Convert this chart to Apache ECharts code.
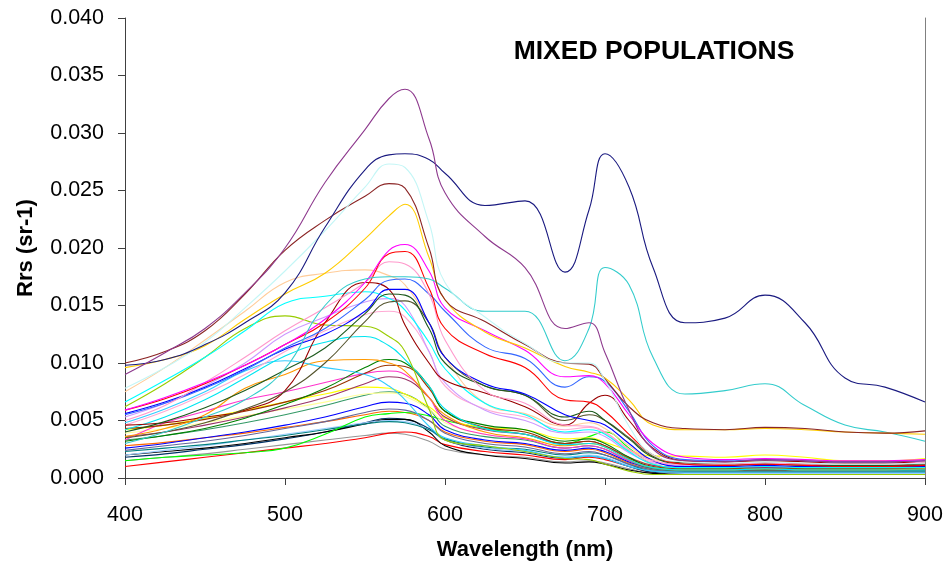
<!DOCTYPE html>
<html lang="en">
<head>
    <meta charset="UTF-8">
    <title>Mixed populations - Rrs spectra</title>
    <script src="https://cdn.jsdelivr.net/npm/echarts@6/dist/echarts.min.js"></script>
    <style>
        html, body { margin: 0; height: 100%; background: #fff; }
        #main { width: 949px; height: 568px; }
    </style>
</head>
<body>
<div id="main"></div>
<script>
var wavelengths = [400, 425, 450, 475, 500, 525, 550, 565, 575, 590, 600, 625, 650, 675, 690, 700, 715, 730, 750, 775, 800, 825, 850, 875, 900];

// Rrs values in units of 0.001 sr-1
var s01 = [9.0, 10.9, 13.0, 16.1, 20.0, 25.7, 30.3, 33.0, 33.8, 29.5, 24.8, 21.0, 18.3, 13.0, 13.5, 10.9, 5.9, 2.5, 1.5, 1.4, 1.6, 1.5, 1.4, 1.4, 1.5];
var s02 = [9.8, 10.3, 11.6, 13.5, 16.1, 21.8, 26.8, 28.1, 28.2, 27.7, 26.5, 23.7, 24.1, 17.9, 23.3, 28.2, 25.3, 18.3, 13.5, 13.9, 15.9, 13.5, 8.7, 7.9, 6.6];
var s03 = [7.8, 9.6, 11.8, 14.8, 18.0, 21.5, 25.3, 27.3, 27.0, 22.2, 17.0, 14.0, 11.7, 10.0, 10.0, 8.5, 4.5, 2.0, 1.4, 1.3, 1.4, 1.3, 1.2, 1.2, 1.3];
var s04 = [10.0, 11.0, 12.8, 16.0, 19.8, 22.4, 24.5, 25.6, 25.2, 20.0, 15.5, 13.6, 11.6, 10.0, 9.9, 8.6, 6.2, 4.8, 4.3, 4.2, 4.4, 4.3, 4.0, 3.9, 4.1];
var s05 = [9.6, 10.3, 11.5, 13.8, 16.0, 17.8, 20.8, 22.8, 23.8, 19.2, 15.5, 12.7, 11.3, 9.7, 9.2, 8.7, 6.8, 4.6, 4.2, 4.2, 4.3, 4.2, 4.0, 3.9, 3.8];
var s06 = [3.0, 4.0, 5.3, 6.8, 9.5, 15.0, 17.3, 17.5, 17.5, 17.3, 16.5, 14.5, 14.5, 10.2, 13.0, 18.3, 16.8, 10.5, 7.3, 7.6, 8.2, 6.3, 4.6, 4.0, 3.2];
var s07 = [5.9, 7.0, 8.3, 9.8, 11.6, 13.8, 17.0, 19.8, 20.3, 18.0, 14.8, 12.8, 11.1, 8.8, 8.9, 8.2, 5.5, 3.0, 1.8, 1.6, 1.7, 1.6, 1.5, 1.5, 1.6];
var s08 = [5.9, 6.9, 8.2, 9.8, 11.6, 13.5, 16.5, 19.5, 19.7, 16.5, 13.0, 10.8, 9.6, 6.8, 6.6, 5.8, 3.8, 2.0, 1.2, 1.1, 1.2, 1.1, 1.0, 1.0, 1.1];
var s09 = [5.0, 6.3, 8.3, 10.5, 12.8, 14.8, 17.0, 18.8, 18.6, 16.0, 12.0, 7.6, 6.5, 4.6, 4.5, 4.0, 2.5, 1.5, 1.2, 1.2, 1.3, 1.2, 1.2, 1.2, 1.4];
var s10 = [5.5, 6.5, 7.8, 9.4, 11.3, 13.0, 15.5, 17.2, 17.3, 16.0, 14.5, 11.4, 10.4, 7.9, 8.8, 8.4, 5.8, 2.8, 1.6, 1.5, 1.6, 1.5, 1.4, 1.4, 1.5];
var s11 = [5.6, 6.6, 7.9, 9.5, 11.2, 12.5, 14.5, 16.4, 16.4, 13.5, 10.5, 8.2, 7.3, 5.5, 5.0, 4.6, 3.0, 1.5, 1.0, 1.0, 1.1, 1.0, 1.0, 1.0, 1.0];
var s12 = [4.0, 4.9, 6.1, 7.6, 9.4, 11.3, 14.3, 16.0, 15.9, 13.0, 10.0, 8.0, 7.2, 5.3, 5.8, 5.0, 3.4, 1.8, 1.2, 1.1, 1.2, 1.1, 1.1, 1.1, 1.1];
var s13 = [3.5, 4.0, 4.8, 6.0, 7.5, 10.0, 13.6, 15.3, 15.4, 13.5, 10.5, 8.0, 7.2, 5.0, 5.5, 5.0, 3.5, 1.9, 1.3, 1.2, 1.3, 1.2, 1.2, 1.2, 1.2];
var s14 = [4.6, 4.8, 5.3, 5.9, 7.6, 13.5, 17.0, 16.4, 13.3, 10.0, 8.5, 7.4, 6.2, 4.6, 6.5, 7.2, 5.0, 2.6, 1.5, 1.4, 1.5, 1.4, 1.3, 1.3, 1.4];
var s15 = [6.6, 8.5, 10.5, 12.8, 15.2, 15.8, 16.2, 15.6, 14.6, 11.8, 9.5, 6.5, 5.5, 4.0, 4.2, 3.8, 2.3, 1.2, 0.9, 0.9, 1.0, 0.9, 0.9, 0.9, 0.9];
var s16 = [7.5, 9.6, 12.0, 14.5, 17.0, 17.8, 18.1, 17.6, 16.8, 13.5, 10.5, 6.5, 5.6, 4.5, 4.8, 4.3, 2.8, 1.6, 1.4, 1.4, 1.5, 1.4, 1.3, 1.4, 1.6];
var s17 = [5.3, 6.5, 8.0, 10.0, 12.5, 14.0, 15.3, 15.6, 15.0, 11.0, 8.3, 5.9, 5.0, 3.9, 4.0, 3.6, 2.2, 1.3, 1.1, 1.1, 1.2, 1.1, 1.0, 1.0, 1.1];
var s18 = [4.6, 5.8, 7.3, 9.0, 11.0, 12.8, 14.2, 14.5, 14.0, 11.0, 8.0, 6.0, 5.3, 4.2, 4.4, 3.9, 2.4, 1.4, 1.2, 1.2, 1.3, 1.2, 1.1, 1.1, 1.3];
var s19 = [6.2, 8.2, 10.5, 13.0, 14.1, 13.3, 13.2, 12.3, 11.0, 6.0, 3.3, 2.8, 2.3, 1.7, 1.6, 1.2, 0.6, 0.3, 0.3, 0.3, 0.3, 0.3, 0.3, 0.3, 0.3];
var s20 = [4.2, 5.3, 6.8, 8.7, 10.6, 11.8, 12.3, 11.5, 10.3, 8.0, 6.0, 4.3, 3.8, 2.9, 3.0, 2.7, 1.6, 0.9, 0.7, 0.7, 0.8, 0.7, 0.7, 0.7, 0.7];
var s21 = [4.8, 6.0, 7.5, 9.3, 10.2, 9.6, 9.0, 8.0, 6.8, 4.5, 3.5, 2.8, 2.4, 1.8, 1.9, 1.7, 1.0, 0.6, 0.5, 0.5, 0.5, 0.5, 0.5, 0.5, 0.5];
var s22 = [3.6, 4.3, 5.5, 7.8, 9.0, 10.2, 10.3, 10.0, 9.3, 7.0, 5.5, 4.0, 3.5, 2.8, 3.0, 2.7, 1.6, 0.9, 0.7, 0.7, 0.8, 0.7, 0.7, 0.7, 0.8];
var s23 = [3.2, 3.7, 4.3, 5.2, 6.4, 7.8, 9.6, 10.3, 10.0, 8.0, 5.8, 4.6, 4.2, 3.2, 3.4, 3.0, 1.8, 0.9, 0.7, 0.7, 0.7, 0.7, 0.7, 0.7, 0.7];
var s24 = [4.3, 4.6, 5.1, 5.8, 6.6, 7.6, 9.1, 9.8, 9.7, 7.8, 5.8, 4.4, 4.0, 3.0, 3.2, 2.8, 1.7, 1.0, 0.8, 0.8, 0.8, 0.8, 0.8, 0.8, 0.8];
var s25 = [3.3, 4.8, 5.8, 6.8, 7.5, 8.3, 9.1, 9.3, 9.0, 7.0, 5.0, 3.8, 3.4, 2.6, 2.8, 2.5, 1.5, 0.9, 0.7, 0.7, 0.7, 0.7, 0.7, 0.7, 0.7];
var s26 = [4.2, 4.6, 5.2, 5.9, 6.6, 7.3, 7.9, 7.8, 7.3, 6.2, 5.2, 4.4, 4.2, 3.4, 3.5, 3.1, 2.4, 1.9, 1.9, 1.8, 2.0, 1.8, 1.5, 1.5, 1.7];
var s27 = [3.9, 4.3, 4.8, 5.4, 6.0, 6.6, 7.3, 7.4, 7.1, 6.0, 4.8, 3.8, 3.5, 2.8, 3.0, 2.7, 1.8, 1.2, 1.1, 1.1, 1.2, 1.1, 1.0, 1.0, 1.1];
var s28 = [3.3, 3.7, 4.2, 4.8, 5.5, 6.3, 7.2, 7.5, 7.3, 6.0, 4.5, 3.6, 3.3, 2.6, 2.8, 2.5, 1.5, 0.8, 0.6, 0.6, 0.6, 0.6, 0.6, 0.6, 0.6];
var s29 = [2.6, 3.0, 3.5, 4.0, 4.6, 5.3, 6.2, 6.6, 6.5, 5.5, 4.2, 3.3, 3.0, 2.4, 2.6, 2.3, 1.4, 0.8, 0.6, 0.6, 0.6, 0.6, 0.6, 0.6, 0.6];
var s30 = [1.5, 1.8, 2.0, 2.2, 2.6, 3.8, 5.3, 5.6, 5.7, 5.4, 5.0, 4.3, 3.8, 3.0, 3.6, 4.0, 2.6, 1.2, 0.8, 0.8, 0.8, 0.8, 0.8, 0.8, 0.8];
var s31 = [2.8, 3.1, 3.5, 3.9, 4.4, 4.9, 5.5, 5.8, 5.7, 5.0, 4.0, 3.2, 2.9, 2.3, 2.5, 2.2, 1.3, 0.7, 0.5, 0.5, 0.5, 0.5, 0.5, 0.5, 0.5];
var s32 = [2.3, 2.6, 2.9, 3.3, 3.7, 4.2, 4.7, 4.9, 4.8, 4.2, 3.4, 2.7, 2.5, 2.0, 2.2, 2.0, 1.2, 0.6, 0.5, 0.5, 0.5, 0.5, 0.5, 0.5, 0.5];
var s33 = [2.0, 2.3, 2.6, 3.0, 3.5, 4.0, 4.7, 5.1, 5.1, 4.0, 2.8, 2.0, 1.7, 1.3, 1.4, 1.2, 0.7, 0.4, 0.3, 0.3, 0.3, 0.3, 0.3, 0.3, 0.3];
var s34 = [1.0, 1.4, 1.8, 2.2, 2.6, 3.0, 3.5, 3.9, 4.0, 3.6, 2.9, 2.3, 2.0, 1.6, 1.8, 1.6, 1.0, 0.5, 0.4, 0.4, 0.4, 0.4, 0.4, 0.4, 0.4];
var s35 = [1.5, 1.8, 2.1, 2.5, 2.9, 3.3, 3.7, 3.9, 3.8, 3.2, 2.5, 2.0, 1.8, 1.4, 1.5, 1.3, 0.8, 0.4, 0.3, 0.3, 0.3, 0.3, 0.3, 0.3, 0.3];
var s36 = [2.0, 2.4, 2.8, 3.3, 3.8, 4.3, 4.8, 5.0, 4.9, 4.2, 3.3, 2.6, 2.3, 1.8, 2.0, 1.8, 1.1, 0.6, 0.4, 0.4, 0.4, 0.4, 0.4, 0.4, 0.4];
var s37 = [2.4, 2.8, 3.2, 3.7, 4.3, 4.9, 5.7, 6.0, 5.9, 5.0, 3.9, 3.0, 2.7, 2.1, 2.3, 2.0, 1.2, 0.7, 0.5, 0.5, 0.5, 0.5, 0.5, 0.5, 0.5];
var s38 = [1.8, 2.1, 2.5, 2.9, 3.4, 4.0, 4.8, 5.2, 5.1, 4.3, 3.3, 2.5, 2.2, 1.7, 1.9, 1.7, 1.0, 0.5, 0.4, 0.4, 0.4, 0.4, 0.4, 0.4, 0.4];
var s39 = [3.6, 4.0, 4.6, 5.3, 6.1, 7.0, 8.2, 8.8, 8.6, 7.0, 5.3, 4.2, 3.8, 3.0, 3.2, 2.8, 1.8, 1.1, 0.9, 0.9, 0.9, 0.9, 0.9, 0.9, 0.9];

var yTicks = [0, 5, 10, 15, 20, 25, 30, 35, 40];
var xTicks = [400, 500, 600, 700, 800, 900];

// drawing order: low spectra first, bright ones on top
var spectra = [s35, s34, s38, s33, s36, s32, s31, s30, s29, s37, s28, s27, s26, s39, s25, s24, s23, s22, s21, s20, s19,
    s18, s17, s16, s15, s14, s13, s12, s11, s10, s09, s08, s07, s06, s05, s04, s03, s02, s01];
var lineColors = ['#969696', '#FF0000', '#003366', '#000000', '#99CCFF', '#008080', '#FF6600', '#00FF00', '#0000FF', '#666699', '#339966', '#FFFF99', '#FFFF00', '#993366', '#FF33CC', '#993300', '#008000', '#FF9900', '#33CCFF', '#00E5F0', '#99CC00',
    '#FFAAD4', '#CC99FF', '#FFCC99', '#00FFFF', '#990000', '#55552E', '#1E5A1E', '#0000FF', '#3366FF', '#FF99CC', '#FF0000', '#FF00FF', '#33CCCC', '#FFCC00', '#8B2525', '#C4F6F6', '#1A1A80', '#8E3A8E'];

var fontFam = '"Liberation Sans", Arial, sans-serif';

var chart = echarts.init(document.getElementById('main'), null, { renderer: 'canvas' });

var series = spectra.map(function (vals, k) {
    return {
        type: 'line',
        data: wavelengths.map(function (w, i) { return [w, vals[i]]; }),
        showSymbol: false,
        smooth: 0.45,
        lineStyle: { width: 1.1, color: lineColors[k] },
        itemStyle: { color: lineColors[k] },
        silent: true,
        animation: false
    };
});

var option = {
    animation: false,
    title: {
        text: 'MIXED POPULATIONS',
        left: 654,
        top: 38,
        textAlign: 'center',
        padding: 0,
        textStyle: { fontFamily: fontFam, fontWeight: 'bold', fontSize: 26.5, color: '#000' }
    },
    grid: { left: 125, right: 24, top: 18, bottom: 90, containLabel: false },
    xAxis: {
        type: 'value',
        min: xTicks[0],
        max: xTicks[xTicks.length - 1],
        interval: 100,
        name: 'Wavelength (nm)',
        nameLocation: 'middle',
        nameGap: 61,
        nameTextStyle: { fontFamily: fontFam, fontWeight: 'bold', fontSize: 22, color: '#000' },
        axisLine: { lineStyle: { color: '#404040', width: 1 } },
        axisTick: { show: true, inside: false, length: 7, lineStyle: { color: '#404040' } },
        axisLabel: { margin: 26, fontFamily: fontFam, fontSize: 21.5, color: '#000' },
        splitLine: { show: false }
    },
    yAxis: [{
        type: 'value',
        min: yTicks[0],
        max: yTicks[yTicks.length - 1],
        interval: 5,
        name: 'Rrs (sr-1)',
        nameLocation: 'middle',
        nameRotate: 90,
        nameGap: 88,
        nameTextStyle: { fontFamily: fontFam, fontWeight: 'bold', fontSize: 22, color: '#000' },
        axisLine: { show: true, lineStyle: { color: '#404040', width: 1 } },
        axisTick: { show: true, inside: false, length: 7, lineStyle: { color: '#404040' } },
        axisLabel: {
            margin: 21,
            fontFamily: fontFam,
            fontSize: 21.5,
            color: '#000',
            formatter: function (v) { return (v / 1000).toFixed(3); }
        },
        splitLine: { show: false }
    }, {
        type: 'value',
        position: 'right',
        min: 0,
        max: 40,
        axisLine: { show: true, lineStyle: { color: '#808080', width: 1 } },
        axisTick: { show: false },
        axisLabel: { show: false },
        splitLine: { show: false }
    }],
    series: series
};

chart.setOption(option);
</script>
</body>
</html>
